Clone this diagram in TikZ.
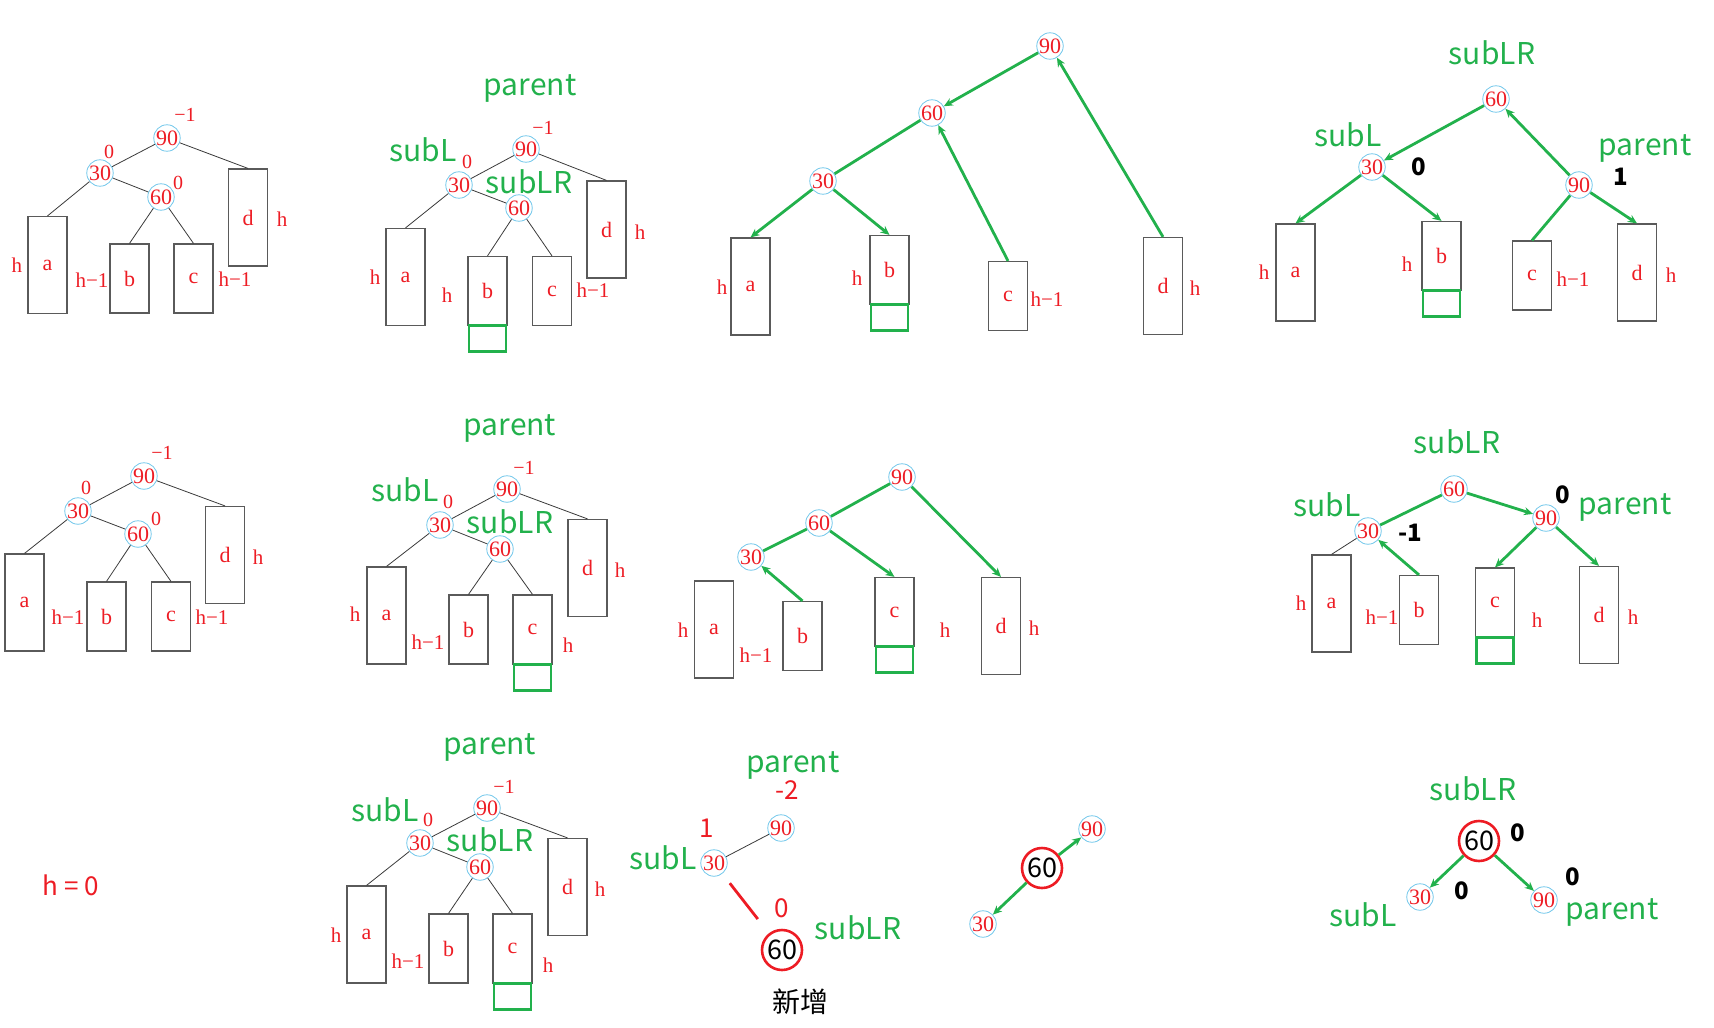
\documentclass[tikz,border=0pt]{standalone}
\usepackage{fontspec}
\setmainfont{Liberation Serif}
\newfontfamily\cjk{Noto Sans CJK SC}
\usepackage{tikz}
\usetikzlibrary{arrows.meta, positioning}
\definecolor{paintgreen}{HTML}{22B14C}
\definecolor{paintred}{HTML}{ED1C24}
\definecolor{ringblue}{HTML}{6FC6EA}
\definecolor{boxgray}{HTML}{5A5A5A}
\definecolor{edgegray}{HTML}{3A3A3A}

\begin{document}
\begin{tikzpicture}[x=0.5pt, y=-0.5pt,
    keynode/.style={circle, draw=ringblue, line width=0.4pt, inner sep=0pt,
      minimum size=12.5pt, text=paintred, font=\fontsize{11}{11}\selectfont},
    newkey/.style={circle, draw=paintred, line width=1.3pt, inner sep=0pt,
      minimum size=20pt, font=\cjk\fontsize{13.5}{13.5}\selectfont},
    subtree/.style={draw=boxgray, line width=0.6pt, inner sep=0pt,
      minimum width=19.5pt, text=paintred, font=\fontsize{11}{11}\selectfont},
    tallbox/.style ={subtree, minimum height=48.5pt},
    shortbox/.style={subtree, minimum height=34.5pt},
    addbox/.style={draw=paintgreen, line width=1.4pt, inner sep=0pt,
      minimum width=18.5pt, minimum height=13pt},
    hgt/.style={text=paintred, inner sep=1pt, font=\fontsize{10.5}{10.5}\selectfont},
    bf/.style ={text=paintred, inner sep=1pt, font=\fontsize{10}{10}\selectfont},
    bigbf/.style={text=paintred, inner sep=0pt, font=\cjk\fontsize{13}{13}\selectfont},
    ptr/.style={text=paintgreen, inner sep=0pt, font=\cjk\fontsize{15}{15}\selectfont},
    scrawl/.style={inner sep=0pt, font=\cjk\bfseries\fontsize{12}{12}\selectfont},
    branch/.style={draw=edgegray, line width=0.4pt},
    rotarrow/.style={-{Stealth[length=4.5pt, width=4pt]}, draw=paintgreen, line width=1.4pt},
    link/.style={draw=paintgreen, line width=1.4pt},
]
\useasboundingbox (0,0) rectangle (1714,1028);

% row 1, before insertion
\node[keynode] (A90) at (167,138) {90};
\node[keynode] (A30) at (100,173) {30};
\node[keynode] (A60) at (161,197) {60};
\node[tallbox]  (Aa) at (47.5,265) {a};
\node[shortbox] (Ab) at (129.5,278.5) {b};
\node[shortbox] (Ac) at (193.5,278.5) {c};
\node[tallbox]  (Ad) at (248,217.5) {d};
\node[bf] (A90bf) at (185,115) {−1};
\node[bf] (A30bf) at (109,152) {0};
\node[bf] (A60bf) at (178,183) {0};
\node[hgt] (Aah) at (17,265) {h};
\node[hgt] (Abh) at (92,280) {h−1};
\node[hgt] (Ach) at (235,279) {h−1};
\node[hgt] (Adh) at (282,219) {h};
\draw[branch] (A90) -- (A30);
\draw[branch] (A90) -- (Ad.north);
\draw[branch] (A30) -- (Aa.north);
\draw[branch] (A30) -- (A60);
\draw[branch] (A60) -- (Ab.north);
\draw[branch] (A60) -- (Ac.north);

% row 1, insert under b
\node[ptr] (Bparent) at (530,88) {parent};
\node[keynode] (B90) at (526,149) {90};
\node[keynode] (B30) at (459,185) {30};
\node[keynode] (B60) at (519,208) {60};
\node[ptr] (BsubL) at (423,150) {subL};
\node[ptr] (BsubLR) at (529,182) {subLR};
\node[bf] (B90bf) at (543,128) {−1};
\node[bf] (B30bf) at (467,162) {0};
\node[tallbox]  (Ba) at (405.5,277) {a};
\node[shortbox] (Bb) at (487.5,291) {b};
\node[shortbox] (Bc) at (552,291) {c};
\node[tallbox]  (Bd) at (606.5,229.5) {d};
\node[addbox, below=-0.9pt of Bb] (Bnew) {};
\node[hgt] (Bah) at (375,277) {h};
\node[hgt] (Bbh) at (447,295) {h};
\node[hgt] (Bch) at (593,290) {h−1};
\node[hgt] (Bdh) at (640,232) {h};
\draw[branch] (B90) -- (B30);
\draw[branch] (B90) -- (Bd.north);
\draw[branch] (B30) -- (Ba.north);
\draw[branch] (B30) -- (B60);
\draw[branch] (B60) -- (Bb.north);
\draw[branch] (B60) -- (Bc.north);

% row 1, rotating
\node[keynode] (C90) at (1050,46) {90};
\node[keynode] (C60) at (932,113) {60};
\node[keynode] (C30) at (823,181) {30};
\node[tallbox]  (Ca) at (750.5,286.5) {a};
\node[shortbox] (Cb) at (889.5,270) {b};
\node[shortbox] (Cc) at (1008,296) {c};
\node[tallbox]  (Cd) at (1163,286) {d};
\node[addbox, below=-0.9pt of Cb] (Cnew) {};
\node[hgt] (Cah) at (722,287) {h};
\node[hgt] (Cbh) at (857,278) {h};
\node[hgt] (Cch) at (1047,299) {h−1};
\node[hgt] (Cdh) at (1195,288) {h};
\draw[rotarrow] (C90) -- (C60);
\draw[link] (C60) -- (C30);
\draw[rotarrow] (C30) -- (Ca.north);
\draw[rotarrow] (C30) -- (Cb.north);
\draw[rotarrow] (Cc.north) -- (C60);
\draw[rotarrow] (Cd.north) -- (C90);

% row 1, balanced
\node[ptr] (DsubLR) at (1492,53) {subLR};
\node[keynode] (D60) at (1496,99) {60};
\node[ptr] (DsubL) at (1348,135) {subL};
\node[keynode] (D30) at (1372,167) {30};
\node[ptr] (Dparent) at (1645,148) {parent};
\node[keynode] (D90) at (1579,185) {90};
\node[scrawl] (D30bf) at (1419,167) {0};
\node[scrawl] (D90bf) at (1621,177) {1};
\node[tallbox]  (Da) at (1295.5,272.5) {a};
\node[shortbox] (Db) at (1441.5,256) {b};
\node[shortbox] (Dc) at (1532,275.5) {c};
\node[tallbox]  (Dd) at (1637,272.5) {d};
\node[addbox, below=-0.9pt of Db] (Dnew) {};
\node[hgt] (Dah) at (1264,272) {h};
\node[hgt] (Dbh) at (1407,264) {h};
\node[hgt] (Dch) at (1573,279) {h−1};
\node[hgt] (Ddh) at (1671,275) {h};
\draw[rotarrow] (D60) -- (D30);
\draw[rotarrow] (D90) -- (D60);
\draw[rotarrow] (D30) -- (Da.north);
\draw[rotarrow] (D30) -- (Db.north);
\draw[link] (D90) -- (Dc.north);
\draw[rotarrow] (D90) -- (Dd.north);

% row 2, before insertion
\node[keynode] (E90) at (144,476) {90};
\node[keynode] (E30) at (78,511) {30};
\node[keynode] (E60) at (138,534) {60};
\node[tallbox]  (Ea) at (24.5,602.5) {a};
\node[shortbox] (Eb) at (106.5,616.5) {b};
\node[shortbox] (Ec) at (171,616.5) {c};
\node[tallbox]  (Ed) at (225,555) {d};
\node[bf] (E90bf) at (162,453) {−1};
\node[bf] (E30bf) at (86,488) {0};
\node[bf] (E60bf) at (156,519) {0};
\node[hgt] (Ebh) at (68,617) {h−1};
\node[hgt] (Ech) at (212,617) {h−1};
\node[hgt] (Edh) at (258,557) {h};
\draw[branch] (E90) -- (E30);
\draw[branch] (E90) -- (Ed.north);
\draw[branch] (E30) -- (Ea.north);
\draw[branch] (E30) -- (E60);
\draw[branch] (E60) -- (Eb.north);
\draw[branch] (E60) -- (Ec.north);

% row 2, insert under c
\node[ptr] (Fparent) at (510,428) {parent};
\node[keynode] (F90) at (507,489) {90};
\node[keynode] (F30) at (440,525) {30};
\node[keynode] (F60) at (500,549) {60};
\node[ptr] (FsubL) at (405,490) {subL};
\node[ptr] (FsubLR) at (510,522) {subLR};
\node[bf] (F90bf) at (524,468) {−1};
\node[bf] (F30bf) at (448,502) {0};
\node[tallbox]  (Fa) at (386.5,615.5) {a};
\node[shortbox] (Fb) at (468.5,629.5) {b};
\node[shortbox] (Fc) at (532.5,629.5) {c};
\node[tallbox]  (Fd) at (587.5,568) {d};
\node[addbox, below=-0.9pt of Fc] (Fnew) {};
\node[hgt] (Fah) at (355,614) {h};
\node[hgt] (Fbh) at (428,642) {h−1};
\node[hgt] (Fch) at (568,645) {h};
\node[hgt] (Fdh) at (620,570) {h};
\draw[branch] (F90) -- (F30);
\draw[branch] (F90) -- (Fd.north);
\draw[branch] (F30) -- (Fa.north);
\draw[branch] (F30) -- (F60);
\draw[branch] (F60) -- (Fb.north);
\draw[branch] (F60) -- (Fc.north);

% row 2, rotating
\node[keynode] (G90) at (902,477) {90};
\node[keynode] (G60) at (819,523) {60};
\node[keynode] (G30) at (751,557) {30};
\node[tallbox]  (Ga) at (714,629.5) {a};
\node[shortbox] (Gb) at (802.5,636) {b};
\node[shortbox] (Gc) at (894.5,612) {c};
\node[tallbox]  (Gd) at (1001,626) {d};
\node[addbox, below=-0.9pt of Gc] (Gnew) {};
\node[hgt] (Gah) at (683,630) {h};
\node[hgt] (Gbh) at (756,655) {h−1};
\node[hgt] (Gch) at (945,630) {h};
\node[hgt] (Gdh) at (1034,628) {h};
\draw[link] (G60) -- (G90);
\draw[link] (G30) -- (G60);
\draw[rotarrow] (Gb.north) -- (G30);
\draw[rotarrow] (G60) -- (Gc.north);
\draw[rotarrow] (G90) -- (Gd.north);

% row 2, balanced
\node[ptr] (HsubLR) at (1457,442) {subLR};
\node[keynode] (H60) at (1454,489) {60};
\node[ptr] (HsubL) at (1327,505) {subL};
\node[keynode] (H30) at (1368,531) {30};
\node[ptr] (Hparent) at (1625,507) {parent};
\node[keynode] (H90) at (1546,518) {90};
\node[scrawl] (H30bf) at (1410,533) {-1};
\node[scrawl] (H90bf) at (1563,495) {0};
\node[tallbox]  (Ha) at (1331.5,603.5) {a};
\node[shortbox] (Hb) at (1419,610) {b};
\node[shortbox] (Hc) at (1495,602.5) {c};
\node[tallbox]  (Hd) at (1599,615) {d};
\node[addbox, below=-0.9pt of Hc] (Hnew) {};
\node[hgt] (Hah) at (1301,603) {h};
\node[hgt] (Hbh) at (1382,617) {h−1};
\node[hgt] (Hch) at (1537,620) {h};
\node[hgt] (Hdh) at (1633,617) {h};
\draw[link] (H30) -- (H60);
\draw[rotarrow] (H60) -- (H90);
\draw[rotarrow] (H90) -- (Hc.north);
\draw[rotarrow] (H90) -- (Hd.north);
\draw[rotarrow] (Hb.north) -- (H30);
\draw[branch] (H30) -- (Ha.north);

% row 3
\node[text=paintred, font=\cjk\fontsize{13}{13}\selectfont] (hzero) at (71,885) {h = 0};

\node[ptr] (Iparent) at (490,747) {parent};
\node[keynode] (I90) at (487,808) {90};
\node[keynode] (I30) at (420,843) {30};
\node[keynode] (I60) at (480,867) {60};
\node[ptr] (IsubL) at (385,810) {subL};
\node[ptr] (IsubLR) at (490,840) {subLR};
\node[bf] (I90bf) at (504,787) {−1};
\node[bf] (I30bf) at (428,820) {0};
\node[tallbox]  (Ia) at (366.5,934.5) {a};
\node[shortbox] (Ib) at (448.5,948.5) {b};
\node[shortbox] (Ic) at (512.5,948.5) {c};
\node[tallbox]  (Id) at (567.5,887) {d};
\node[addbox, below=-0.9pt of Ic] (Inew) {};
\node[hgt] (Iah) at (336,935) {h};
\node[hgt] (Ibh) at (408,961) {h−1};
\node[hgt] (Ich) at (548,965) {h};
\node[hgt] (Idh) at (600,889) {h};
\draw[branch] (I90) -- (I30);
\draw[branch] (I90) -- (Id.north);
\draw[branch] (I30) -- (Ia.north);
\draw[branch] (I30) -- (I60);
\draw[branch] (I60) -- (Ib.north);
\draw[branch] (I60) -- (Ic.north);

\node[ptr] (Jparent) at (793,765) {parent};
\node[bigbf] (J90bf) at (787,790) {-2};
\node[keynode] (J90) at (781,828) {90};
\node[bigbf] (J30bf) at (707,828) {1};
\node[ptr] (JsubL) at (663,858) {subL};
\node[keynode] (J30) at (714,863) {30};
\node[bigbf] (J60bf) at (782,908) {0};
\node[newkey] (J60) at (782,950) {60};
\node[ptr] (JsubLR) at (858,928) {subLR};
\node[font=\cjk\fontsize{14}{14}\selectfont] (Jnew) at (800,1002) {新增};
\draw[branch] (J30) -- (J90);
\draw[draw=paintred, line width=1.4pt, shorten <=6pt, shorten >=9pt] (J30) -- (J60);

\node[keynode] (K90) at (1092,829) {90};
\node[newkey] (K60) at (1042,868) {60};
\node[keynode] (K30) at (983,924) {30};
\draw[rotarrow] (K60) -- (K90);
\draw[rotarrow] (K60) -- (K30);

\node[ptr] (LsubLR) at (1473,789) {subLR};
\node[newkey] (L60) at (1479,841) {60};
\node[keynode] (L30) at (1420,897) {30};
\node[keynode] (L90) at (1544,900) {90};
\node[scrawl] (L60bf) at (1518,833) {0};
\node[scrawl] (L30bf) at (1462,891) {0};
\node[scrawl] (L90bf) at (1573,877) {0};
\node[ptr] (LsubL) at (1363,915) {subL};
\node[ptr] (Lparent) at (1612,912) {parent};
\draw[rotarrow] (L60) -- (L30);
\draw[rotarrow] (L60) -- (L90);
\end{tikzpicture}
\end{document}
